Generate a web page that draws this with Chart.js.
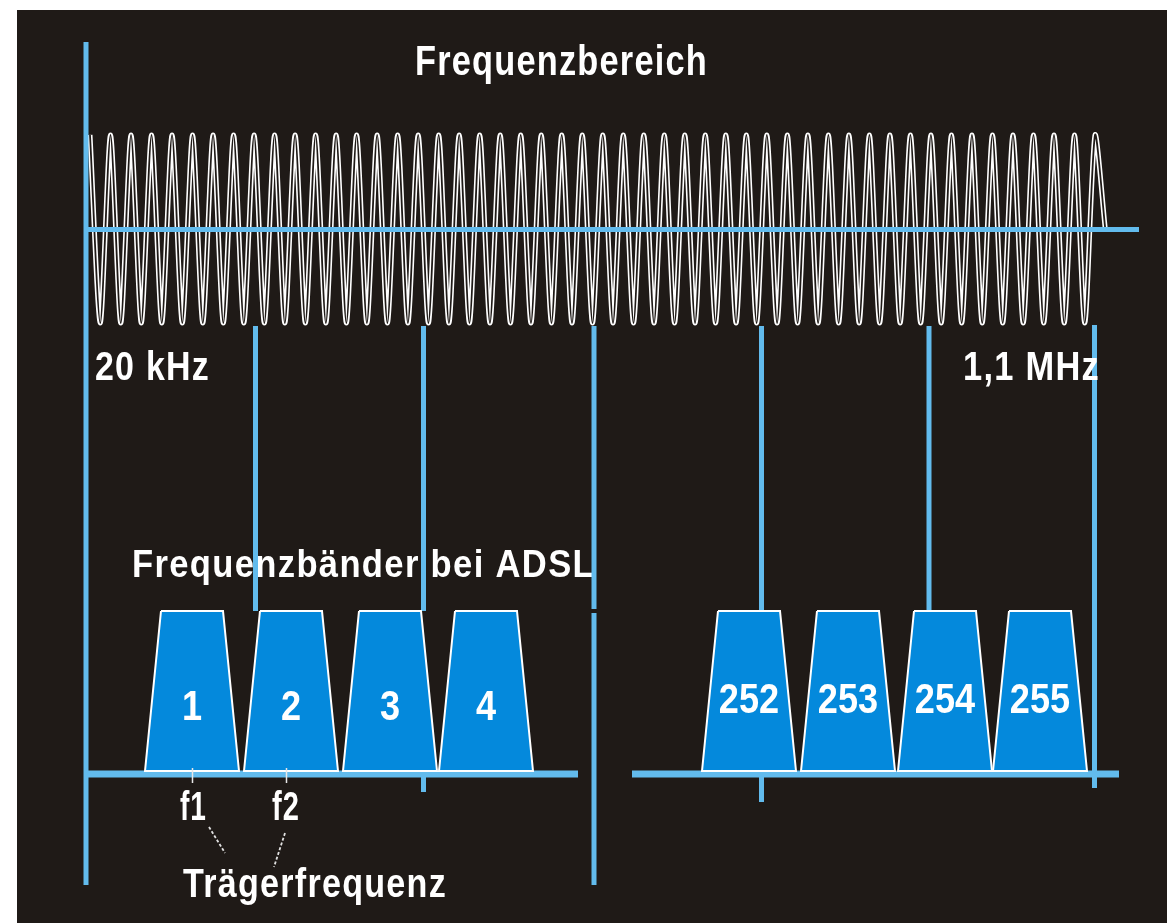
<!DOCTYPE html>
<html>
<head>
<meta charset="utf-8">
<title>Frequenzbänder bei ADSL</title>
<script src="https://cdn.jsdelivr.net/npm/chart.js@4.4.1/dist/chart.umd.min.js"></script>
<style>
  html, body { margin: 0; padding: 0; background: #ffffff; overflow: hidden; }
  canvas { display: block; }
</style>
</head>
<body>
<canvas id="adslChart" width="1167" height="923"></canvas>
<script>
// Trägerkanäle (Nummer und Lage auf der Frequenzachse, schematisch)
const carrierLabels = ['1', '2', '3', '4', '252', '253', '254', '255'];
const carrierPos = [192, 291, 390, 486, 749, 848, 945, 1040];

// Signal im Frequenzbereich: Spitzenwerte, abwechselnd oben / unten
const waveLevels = [
  1, -1, 1, -1, 1, -1, 1, -1, 1, -1,
  1, -1, 1, -1, 1, -1, 1, -1, 1, -1,
  1, -1, 1, -1, 1, -1, 1, -1, 1, -1,
  1, -1, 1, -1, 1, -1, 1, -1, 1, -1,
  1, -1, 1, -1, 1, -1, 1, -1, 1, -1,
  1, -1, 1, -1, 1, -1, 1, -1, 1, -1,
  1, -1, 1, -1, 1, -1, 1, -1, 1, -1,
  1, -1, 1, -1, 1, -1, 1, -1, 1, -1,
  1, -1, 1, -1, 1, -1, 1, -1, 1, -1,
  1, -1, 1, -1, 1, -1, 1, -1, 1, 0
];

// senkrechte Hilfslinien: x, Anfang, Ende
const guideX      = [86, 255.5, 423.5, 423.5, 594, 594, 761.5, 929, 1094.5];
const guideTop    = [42, 326, 326, 776, 326, 613, 326, 326, 325];
const guideBottom = [885, 611, 611, 792, 609, 885, 802, 611, 788];

// f1 / f2 Markierungen
const carrierTickX = [192.5, 286.5];

const BG = '#1f1a17';
const BLUE = '#62bbed';
const BAND = '#0489dc';
const FONT = '"Liberation Sans", Arial, Helvetica, sans-serif';

// Texte (Position und Breite aus dem Bild)
const texts = [
  { text: 'Frequenzbereich', x: 415, y: 75, size: 43, width: 293, under: false },
  { text: '20 kHz', x: 95, y: 380, size: 41, width: 115, under: false },
  { text: '1,1 MHz', x: 963, y: 380, size: 41, width: 137, under: false },
  { text: 'Frequenzbänder bei ADSL', x: 132, y: 577, size: 39, width: 463, under: true },
  { text: 'f1', x: 180, y: 820, size: 41, width: 27, under: false },
  { text: 'f2', x: 272, y: 820, size: 41, width: 28, under: false },
  { text: 'Trägerfrequenz', x: 183, y: 897, size: 41, width: 264, under: false }
];

function lineSet(points, color, width, extra) {
  return Object.assign({
    data: points,
    borderColor: color,
    borderWidth: width,
    pointRadius: 0,
    fill: false,
    tension: 0,
    xAxisID: 'x',
    yAxisID: 'y'
  }, extra || {});
}

// Bänder als Trapeze
const bandSets = carrierPos.map(function(cx) {
  return lineSet([
    { x: cx - 31, y: 611 },
    { x: cx + 31, y: 611 },
    { x: cx + 47, y: 771 },
    { x: cx - 47, y: 771 },
    { x: cx - 31, y: 611 }
  ], '#ffffff', 2, { fill: 'shape', backgroundColor: BAND });
});

// Hilfslinien mit Lücken (null trennt die Stücke)
const guidePoints = [];
guideX.forEach(function(gx, i) {
  guidePoints.push({ x: gx, y: guideTop[i] });
  guidePoints.push({ x: gx, y: guideBottom[i] });
  guidePoints.push({ x: gx, y: null });
});

const tickPoints = [];
carrierTickX.forEach(function(tx) {
  tickPoints.push({ x: tx, y: 768 }, { x: tx, y: 783 }, { x: tx, y: null });
});

const wavePoints = waveLevels.map(function(v, i) { return { x: i, y: v }; });

const datasets = [
  lineSet(tickPoints, '#e8e8e8', 1.5),
  lineSet([{ x: 209, y: 827 }, { x: 225, y: 853 }, { x: 225, y: null },
           { x: 285, y: 833 }, { x: 274, y: 867 }], '#e0e0e0', 1.8, { borderDash: [3, 2] })
].concat(bandSets).concat([
  lineSet([{ x: 86, y: 774 }, { x: 578, y: 774 }, { x: 578, y: null },
           { x: 632, y: 774 }, { x: 1119, y: 774 }], BLUE, 7),
  lineSet([{ x: 86, y: 229.5 }, { x: 1139, y: 229.5 }], BLUE, 5),
  lineSet(guidePoints, BLUE, 5),
  { data: wavePoints, borderColor: BG, borderWidth: 1.8, pointRadius: 0, fill: false,
    tension: 0.25, xAxisID: 'xw', yAxisID: 'yw' },
  { data: wavePoints, borderColor: '#ffffff', borderWidth: 5, pointRadius: 0, fill: false,
    tension: 0.25, xAxisID: 'xw', yAxisID: 'yw' }
]);

function drawText(ctx, t) {
  ctx.save();
  ctx.font = 'bold ' + t.size + 'px ' + FONT;
  ctx.letterSpacing = '1.5px';
  ctx.fillStyle = '#ffffff';
  ctx.textBaseline = 'alphabetic';
  ctx.textAlign = 'left';
  const w = ctx.measureText(t.text).width;
  ctx.translate(t.x, t.y);
  ctx.scale(t.width / w, 1);
  ctx.fillText(t.text, 0, 0);
  ctx.restore();
}

const diagramPlugin = {
  id: 'diagram',
  beforeDraw: function(chart) {
    const ctx = chart.ctx;
    ctx.save();
    ctx.fillStyle = '#ffffff';
    ctx.fillRect(0, 0, chart.width, chart.height);
    ctx.fillStyle = BG;
    ctx.fillRect(17, 10, chart.width - 17, chart.height - 10);
    ctx.restore();
  },
  beforeDatasetsDraw: function(chart) {
    texts.filter(function(t) { return t.under; }).forEach(function(t) { drawText(chart.ctx, t); });
  },
  afterDatasetsDraw: function(chart) {
    const ctx = chart.ctx;
    texts.filter(function(t) { return !t.under; }).forEach(function(t) { drawText(ctx, t); });
    // Nummern in den Bändern
    const xs = chart.scales.x;
    ctx.save();
    ctx.font = 'bold 43px ' + FONT;
    ctx.fillStyle = '#ffffff';
    ctx.textAlign = 'center';
    ctx.textBaseline = 'alphabetic';
    carrierLabels.forEach(function(lbl, i) {
      const px = xs.getPixelForValue(carrierPos[i]);
      ctx.save();
      ctx.translate(px, i < 4 ? 720 : 713);
      ctx.scale(0.84, 1);
      ctx.fillText(lbl, 0, 0);
      ctx.restore();
    });
    ctx.restore();
  }
};

new Chart(document.getElementById('adslChart'), {
  type: 'line',
  data: { datasets: datasets },
  options: {
    responsive: false,
    animation: false,
    devicePixelRatio: 1,
    layout: { padding: 0 },
    plugins: { legend: { display: false }, tooltip: { enabled: false }, title: { display: false } },
    events: [],
    scales: {
      x: { type: 'linear', min: 0, max: 1167, display: false },
      y: { type: 'linear', min: 0, max: 923, reverse: true, display: false },
      xw: { type: 'linear', min: -8.776, max: 105.02, display: false },
      yw: { type: 'linear', min: -7.383, max: 2.436, display: false }
    }
  },
  plugins: [diagramPlugin]
});
</script>
</body>
</html>
